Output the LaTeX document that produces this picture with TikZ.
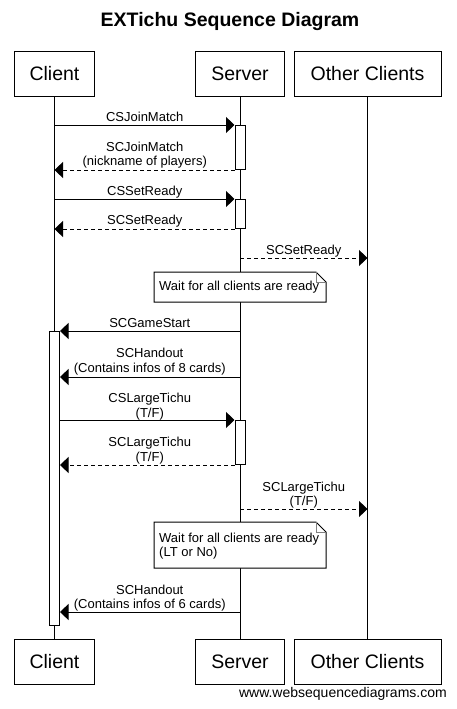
\documentclass[tikz,border=0pt]{standalone}
\usepackage{fontspec}
\setmainfont{Liberation Sans}
\usetikzlibrary{arrows.meta}
\newcommand{\twoline}[2]{\vbox{\baselineskip=14.5pt\halign{\hfil##\hfil\cr#1\cr#2\cr}}}
\newcommand{\twoleft}[2]{\vbox{\baselineskip=14.5pt\halign{##\hfil\cr#1\cr#2\cr}}}
\tikzset{
  part/.style={draw, line width=1pt, minimum height=45pt, inner sep=0pt, font=\fontsize{19.5}{22}\selectfont},
  life/.style={line width=1pt},
  act/.style={draw, fill=white, line width=1pt, minimum width=10pt, inner sep=0pt, anchor=north},
  msg/.style={line width=1pt, -{Triangle[length=8.5pt,width=16pt]}},
  reply/.style={msg, dash pattern=on 4pt off 3pt},
  lbl/.style={anchor=base, inner sep=0pt, font=\fontsize{13}{15}\selectfont},
  notetext/.style={anchor=base west, inner sep=0pt, font=\fontsize{13}{15}\selectfont},
  noteshape/.style={draw, fill=white, line width=1pt},
  fold/.style={draw=gray, line width=1pt},
}
\begin{document}
\begin{tikzpicture}[x=1pt,y=-1pt]
\useasboundingbox (0,0) rectangle (456,709);
% title
\node[anchor=base, inner sep=0pt, font=\bfseries\fontsize{19.5}{22}\selectfont] (title) at (230,26.5) {EXTichu Sequence Diagram};
% participants
\node[part, minimum width=80pt] (cT) at (54.5,73.8) {Client};
\node[part, minimum width=89pt] (sT) at (240,73.8) {Server};
\node[part, minimum width=147pt] (oT) at (367.5,73.8) {Other Clients};
\node[part, minimum width=80pt] (cB) at (54.5,661.5) {Client};
\node[part, minimum width=89pt] (sB) at (240,661.5) {Server};
\node[part, minimum width=147pt] (oB) at (367.5,661.5) {Other Clients};
% lifelines
\draw[life] (cT) -- (cB);
\draw[life] (sT) -- (sB);
\draw[life] (oT) -- (oB);
% activations
\node[act, minimum height=44pt] (a1) at (240,125) {};
\node[act, minimum height=29pt] (a2) at (240,199) {};
\node[act, minimum height=44pt] (a3) at (240,420) {};
\node[act, minimum height=294pt] (ca) at (54.5,331) {};
% messages
\draw[msg] (cT.south |- a1.north) -- (a1.north west);
\node[lbl] (l1) at (144.75,121.5) {CSJoinMatch};
\draw[reply] (a1.south west) -- (cT.south |- a1.south);
\node[lbl] (l2) at (144.75,165.5) {\twoline{SCJoinMatch}{(nickname of players)}};
\draw[msg] (cT.south |- a2.north) -- (a2.north west);
\node[lbl] (l3) at (144.75,195.5) {CSSetReady};
\draw[reply] (a2.south west) -- (cT.south |- a2.south);
\node[lbl] (l4) at (144.75,224.5) {SCSetReady};
\coordinate (m5) at (240,258);
\draw[reply] (m5) -- (oT.south |- m5);
\node[lbl] (l5) at (303.75,254.3) {SCSetReady};
% note 1
\coordinate (n1a) at (154,272);
\coordinate (n1b) at (326,302);
\draw[noteshape] (n1a) -- (316,272) -- (326,282) -- (n1b -| 326,0) -- (154,302) -- cycle;
\draw[fold] (316,272) -- (316,282) -- (326,282);
\node[notetext] (n1) at (159,290.7) {Wait for all clients are ready};
% game start
\coordinate (m6) at (240,331);
\draw[msg] (m6) -- (ca.north east);
\node[lbl] (l6) at (149.75,327.8) {SCGameStart};
\coordinate (m7) at (240,377);
\draw[msg] (m7) -- (ca.east |- m7);
\node[lbl] (l7) at (149.75,372) {\twoline{SCHandout}{(Contains infos of 8 cards)}};
\draw[msg] (ca.east |- a3.north) -- (a3.north west);
\node[lbl] (l8) at (149.75,417) {\twoline{CSLargeTichu}{(T/F)}};
\draw[reply] (a3.south west) -- (ca.east |- a3.south);
\node[lbl] (l9) at (149.75,461) {\twoline{SCLargeTichu}{(T/F)}};
\coordinate (m10) at (240,509);
\draw[reply] (m10) -- (oT.south |- m10);
\node[lbl] (l10) at (303.75,505.5) {\twoline{SCLargeTichu}{(T/F)}};
% note 2
\draw[noteshape] (154,522) -- (316,522) -- (326,532) -- (326,568) -- (154,568) -- cycle;
\draw[fold] (316,522) -- (316,532) -- (326,532);
\node[notetext] (n2) at (159,556.8) {\twoleft{Wait for all clients are ready}{(LT or No)}};
\coordinate (m11) at (240,612);
\draw[msg] (m11) -- (ca.east |- m11);
\node[lbl] (l11) at (149.75,608.5) {\twoline{SCHandout}{(Contains infos of 6 cards)}};
% footer
\node[anchor=base east, inner sep=0pt, font=\fontsize{14}{16}\selectfont] (foot) at (447,697) {www.websequencediagrams.com};
\end{tikzpicture}
\end{document}
